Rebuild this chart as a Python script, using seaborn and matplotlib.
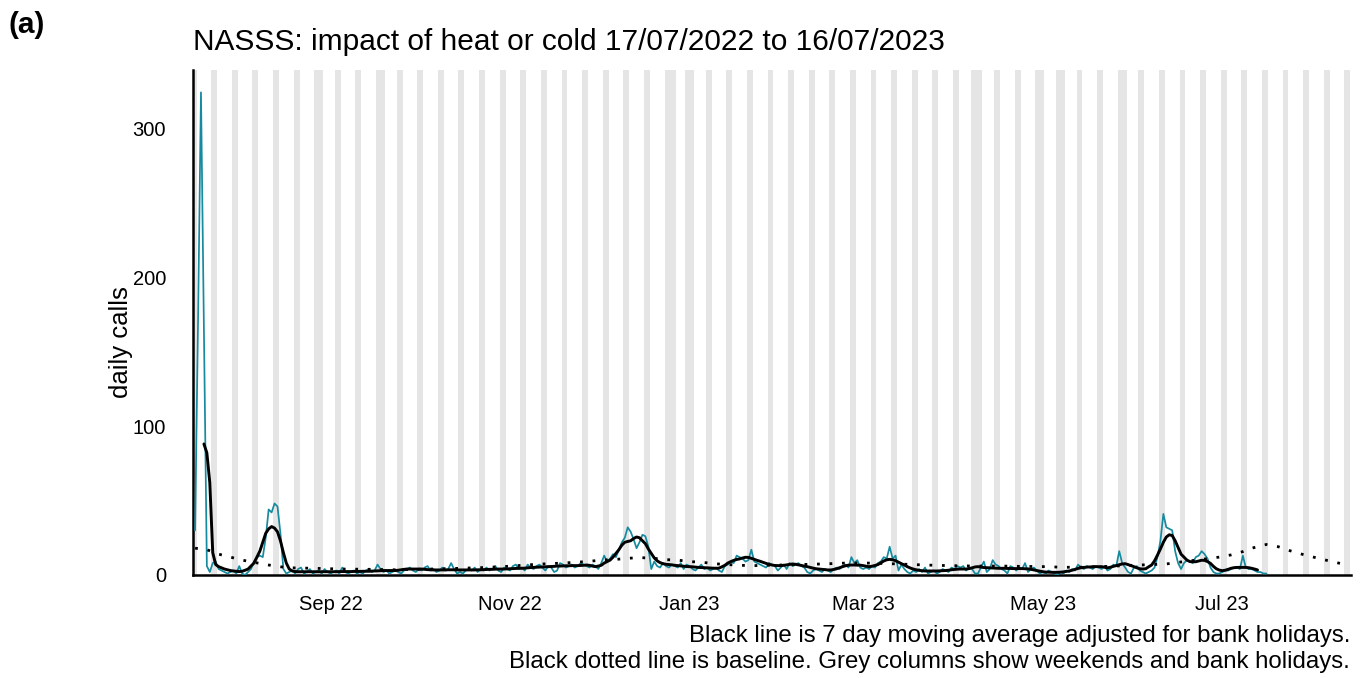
import numpy as np
import pandas as pd
import matplotlib
matplotlib.use("Agg")
import matplotlib.pyplot as plt
import matplotlib.dates as mdates
import seaborn as sns

# ---------------- data ----------------
start_date = "2022-07-17"
teal_jul22 = [30, 170, 324, 165, 6, 2, 8, 9, 4, 3, 2, 1, 2, 3, 1]
teal_aug22 = [6, 1, 0, 2, 4, 9, 12, 13, 12, 25, 44, 42, 48, 46, 28, 4, 1, 2, 3, 1,
              4, 5, 1, 2, 4, 1, 2, 3, 1, 4, 2]
teal_sep22 = [1, 2, 3, 1, 5, 2, 1, 2, 3, 1, 2, 1, 3, 4, 2, 3, 7, 4, 2, 3,
              1, 2, 3, 2, 1, 3, 4, 5, 3, 2]
teal_oct22 = [4, 3, 5, 6, 3, 4, 2, 3, 5, 3, 4, 8, 4, 1, 2, 1, 3, 4, 3, 5,
              2, 4, 3, 5, 3, 4, 6, 3, 2, 5, 4]
teal_nov22 = [3, 6, 7, 4, 5, 3, 7, 5, 4, 6, 7, 5, 3, 6, 5, 2, 3, 8, 7, 5,
              6, 7, 5, 6, 8, 7, 6, 5, 7, 6]
teal_dec22 = [4, 8, 13, 9, 11, 14, 12, 17, 22, 25, 32, 29, 24, 18, 22, 27, 26, 19, 4, 9,
              6, 5, 8, 6, 5, 7, 6, 5, 8, 4, 7]
teal_jan23 = [6, 4, 3, 5, 7, 4, 5, 3, 4, 5, 3, 2, 6, 7, 9, 8, 13, 12, 11, 9,
              10, 17, 9, 8, 7, 6, 5, 8, 7, 6, 3]
teal_feb23 = [5, 7, 4, 8, 6, 7, 8, 6, 5, 2, 1, 3, 4, 3, 2, 4, 3, 2, 4, 5,
              4, 6, 7, 5, 12, 8, 10, 5]
teal_mar23 = [4, 5, 4, 6, 5, 8, 9, 12, 11, 19, 11, 13, 3, 7, 4, 2, 1, 3, 2, 4,
              2, 5, 1, 2, 3, 1, 2, 4, 3, 2, 5]
teal_apr23 = [4, 6, 5, 6, 3, 5, 4, 1, 1, 5, 9, 2, 4, 10, 7, 6, 4, 3, 1, 6,
              5, 3, 5, 4, 8, 2, 4, 5, 3, 1]
teal_may23 = [2, 1, 3, 2, 1, 0, 2, 1, 3, 2, 4, 3, 7, 5, 4, 6, 5, 4, 6, 5,
              4, 6, 3, 4, 7, 6, 16, 8, 5, 2, 1]
teal_jun23 = [5, 6, 3, 2, 1, 2, 3, 5, 12, 23, 41, 32, 31, 30, 16, 8, 4, 8, 10, 9,
              8, 12, 13, 16, 14, 11, 5, 2, 1, 1]
teal_jul23 = [2, 3, 3, 4, 5, 5, 4, 13, 5, 4, 4, 3, 2, 2, 1, 1]

ma_start_date = "2022-07-20"
ma_jul22 = [88, 82, 62, 15, 7, 5.6, 4.8, 4, 3.5, 3, 2.7, 2.5]
ma_aug22 = [2.3, 2.5, 3.2, 4, 6, 8, 12, 16, 22, 28, 31, 32.5, 31.5, 29, 23, 15, 8, 4, 2.7, 2.3,
            2.2, 2.2, 2.2, 2.2, 2.2, 2.2, 2.2, 2.2, 2.2, 2.2, 2.2]
ma_sep22 = [2.2, 2.2, 2.2, 2.3, 2.3, 2.3, 2.3, 2.3, 2.4, 2.4, 2.4, 2.5, 2.5, 2.5, 2.6,
            2.7, 2.8, 2.9, 3, 3, 3, 3, 3, 3.2, 3.5, 3.8, 4, 4, 4, 4]
ma_oct22 = [4, 4, 3.8, 3.6, 3.5, 3.4, 3.4, 3.4, 3.4, 3.4, 3.5, 3.5, 3.5, 3.4, 3.4,
            3.4, 3.4, 3.4, 3.4, 3.4, 3.5, 3.5, 3.6, 3.7, 3.8, 3.8, 3.9, 4, 4, 4, 4.1]
ma_nov22 = [4.2, 4.3, 4.4, 4.5, 4.5, 4.6, 4.8, 5, 5.1, 5.2, 5.3, 5.4, 5.5, 5.6, 5.7,
            5.8, 6, 6, 6.1, 6.2, 6.2, 6.3, 6.3, 6.3, 6.4, 6.5, 6.7, 6.5, 6, 5.6]
ma_dec22 = [6, 6.5, 8, 9, 10, 12, 14.5, 17, 20, 22, 22.5, 23, 24.5, 25.5, 25,
            23, 21, 17.5, 14.5, 11.5, 9.5, 8.3, 7.6, 7.2, 7, 6.8, 6.5, 6.3, 6.1, 5.9, 5.7]
ma_jan23 = [5.6, 5.5, 5.3, 5.1, 5, 4.9, 4.8, 4.7, 4.6, 4.5, 4.6, 5.5, 6.5, 8, 9,
            9.8, 10.4, 10.8, 11.4, 11.9, 11.8, 11.2, 10.5, 9.8, 9.2, 8.5, 7.8, 7.2, 6.7, 6.4, 6.3]
ma_feb23 = [6.3, 6.5, 6.8, 7.1, 7.4, 7.2, 6.8, 6.4, 6, 5.6, 5.1, 4.6, 4.2, 4, 3.8,
            3.6, 3.4, 3.4, 3.7, 4.2, 4.9, 5.6, 6.2, 6.6, 6.7, 6.7, 6.6, 6.6]
ma_mar23 = [6.3, 5.9, 5.6, 5.9, 6.4, 7, 8.2, 9.4, 10.2, 10.5, 10.2, 9.6, 8.6, 7.6, 6.7,
            5.6, 4.7, 4, 3.5, 3.1, 2.9, 2.7, 2.7, 2.7, 2.7, 2.7, 2.8, 2.9, 3, 3.2, 3.5]
ma_apr23 = [3.7, 3.9, 4, 4, 4, 4.3, 4.8, 5.4, 5.6, 5.3, 5, 4.9, 4.8, 4.7, 4.6,
            4.5, 4.5, 4.5, 4.4, 4.4, 4.3, 4.3, 4.3, 4.3, 4.2, 4.1, 3.8, 3.4, 3, 2.6]
ma_may23 = [2.2, 2, 1.9, 1.8, 1.8, 1.8, 1.9, 2.1, 2.4, 2.7, 3.2, 3.8, 4.4, 4.9, 5.1,
            5.3, 5.4, 5.5, 5.6, 5.6, 5.6, 5.2, 4.8, 5.2, 5.8, 6.3, 6.9, 7.4, 7.6, 7, 6.3]
ma_jun23 = [5.6, 4.8, 4.2, 4, 4.2, 5.5, 6.7, 9.5, 13.4, 17.5, 22, 25.5, 27, 26.5, 23,
            18.5, 14, 12, 10, 9, 8.9, 8.9, 9.4, 9.9, 9.8, 9, 7.8, 5.8, 4.2, 3.3]
ma_jul23 = [2.9, 3.2, 3.8, 4.5, 4.9, 5.1, 5.1, 5.1, 5.1, 4.9, 4.5, 4, 3.4]

baseline_dates = ["2022-07-17", "2022-07-21", "2022-07-25", "2022-07-29", "2022-08-02",
                  "2022-08-06", "2022-08-11", "2022-08-15", "2022-08-19", "2022-08-26",
                  "2022-09-05", "2022-09-15", "2022-09-23", "2022-10-05", "2022-10-15",
                  "2022-10-23", "2022-10-28", "2022-11-02", "2022-11-06", "2022-11-14",
                  "2022-11-19", "2022-11-23", "2022-11-27", "2022-12-02", "2022-12-06",
                  "2022-12-11", "2022-12-15", "2022-12-20", "2022-12-24", "2022-12-28",
                  "2023-01-01", "2023-01-05", "2023-01-10", "2023-01-18", "2023-01-23",
                  "2023-02-01", "2023-02-07", "2023-02-15", "2023-02-23", "2023-03-04",
                  "2023-03-13", "2023-03-22", "2023-03-30", "2023-04-08", "2023-04-17",
                  "2023-04-23", "2023-05-03", "2023-05-07", "2023-05-13", "2023-05-23",
                  "2023-06-03", "2023-06-12", "2023-06-16", "2023-06-22", "2023-06-30",
                  "2023-07-04", "2023-07-08", "2023-07-11", "2023-07-16", "2023-07-20",
                  "2023-07-24", "2023-07-28", "2023-08-01", "2023-08-06", "2023-08-10"]
baseline_values = [18, 17, 14, 12, 10, 8.5, 6.7, 5.5, 4.8, 4.5,
                   4, 3.8, 3.5, 4, 4.5, 5, 5.5, 6, 6.7, 7.6,
                   8, 8.5, 9, 10, 10.3, 11.2, 11.7, 11.2, 10.3, 10,
                   9, 8.6, 7.5, 6.5, 6.3, 6.7, 7, 7.4, 8, 8,
                   7.4, 6.7, 6.3, 6, 6, 5.8, 5.6, 5.2, 5.2, 5.8,
                   6.7, 7.4, 8.5, 10, 12, 13.5, 15.7, 18, 20.5, 19,
                   16.3, 14, 12, 9.6, 7.8]

bank_holidays = ["2022-08-29", "2022-09-19", "2022-12-26", "2022-12-27", "2023-01-02",
                 "2023-04-07", "2023-04-10", "2023-05-01", "2023-05-08", "2023-05-29"]

x_ticks = ["2022-09-01", "2022-11-01", "2023-01-01", "2023-03-01", "2023-05-01", "2023-07-01"]
x_tick_labels = ["Sep 22", "Nov 22", "Jan 23", "Mar 23", "May 23", "Jul 23"]
y_ticks = [0, 100, 200, 300]

title = "NASSS: impact of heat or cold 17/07/2022 to 16/07/2023"
y_label = "daily calls"
caption = ["Black line is 7 day moving average adjusted for bank holidays.",
           "Black dotted line is baseline. Grey columns show weekends and bank holidays."]
panel_label = "(a)"

# ---------------- build tables ----------------
daily_calls = (teal_jul22 + teal_aug22 + teal_sep22 + teal_oct22 + teal_nov22 + teal_dec22 +
               teal_jan23 + teal_feb23 + teal_mar23 + teal_apr23 + teal_may23 + teal_jun23 + teal_jul23)
moving_avg = (ma_jul22 + ma_aug22 + ma_sep22 + ma_oct22 + ma_nov22 + ma_dec22 +
              ma_jan23 + ma_feb23 + ma_mar23 + ma_apr23 + ma_may23 + ma_jun23 + ma_jul23)

df_daily = pd.DataFrame({"date": pd.date_range(start_date, periods=len(daily_calls), freq="D"),
                         "calls": daily_calls})
df_ma = pd.DataFrame({"date": pd.date_range(ma_start_date, periods=len(moving_avg), freq="D"),
                      "calls": moving_avg})
df_base = pd.DataFrame({"date": pd.to_datetime(baseline_dates), "calls": baseline_values})

# ---------------- style ----------------
sns.set_style("white")
plt.rcParams["font.family"] = ["Liberation Sans", "DejaVu Sans"]
plt.rcParams["text.color"] = "black"
plt.rcParams["axes.labelcolor"] = "black"
plt.rcParams["xtick.color"] = "black"
plt.rcParams["ytick.color"] = "black"

W, H = 1362, 678
fig = plt.figure(figsize=(W / 100, H / 100), dpi=100)
ax_left, ax_right, ax_top, ax_bottom = 193, 1351, 70, 575
ax = fig.add_axes([ax_left / W, 1 - ax_bottom / H, (ax_right - ax_left) / W, (ax_bottom - ax_top) / H])

x_min = pd.Timestamp("2022-07-16 07:00")
x_max = pd.Timestamp("2023-08-13 18:00")

# grey columns: weekends and bank holidays, merged into contiguous runs
hol = set(pd.to_datetime(bank_holidays))
days = pd.date_range("2022-07-15", "2023-08-15", freq="D")
grey_days = [d for d in days if d.weekday() >= 5 or d in hol]
runs = []
for d in grey_days:
    if runs and (d - runs[-1][1]).days == 1:
        runs[-1][1] = d
    else:
        runs.append([d, d])
half = pd.Timedelta(hours=12)
for a, b in runs:
    ax.axvspan(a - half, b + half, color="#E5E5E5", lw=0, zorder=0)

sns.lineplot(data=df_daily, x="date", y="calls", ax=ax, color="#168A9E", lw=1.25, zorder=3)
sns.lineplot(data=df_base, x="date", y="calls", ax=ax, color="black", lw=2.0, zorder=4,
             linestyle=(0, (1, 3.5)))
sns.lineplot(data=df_ma, x="date", y="calls", ax=ax, color="black", lw=2.1, zorder=5)

ax.set_xlim(x_min, x_max)
ax.set_ylim(0, 339)
ax.set_xticks(pd.to_datetime(x_ticks))
ax.set_xticklabels(x_tick_labels)
ax.set_yticks(y_ticks)
ax.set_yticklabels([str(v) for v in y_ticks])
ax.set_xlabel("")
ax.set_ylabel(y_label, fontsize=18.5, color="black")
ax.yaxis.set_label_coords((133 - ax_left) / (ax_right - ax_left), (ax_bottom - 342) / (ax_bottom - ax_top))

for side in ["top", "right"]:
    ax.spines[side].set_visible(False)
for side in ["left", "bottom"]:
    ax.spines[side].set_color("black")
    ax.spines[side].set_linewidth(1.8)
ax.tick_params(axis="both", which="both", direction="out", length=4.5, width=1.3,
               color="#333333", labelsize=14.5, labelcolor="black")
ax.tick_params(axis="x", pad=10)
ax.tick_params(axis="y", pad=15)
ax.grid(False)
ax.set_facecolor("white")

fig.text(ax_left / W, 1 - 50 / H, title, ha="left", va="baseline", fontsize=21.5, color="black")
fig.text(8 / W, 1 - 33 / H, panel_label, ha="left", va="baseline", fontsize=21.5,
         fontweight="bold", color="black")
fig.text(1350 / W, 1 - 642 / H, caption[0], ha="right", va="baseline", fontsize=17.3, color="black")
fig.text(1350 / W, 1 - 668 / H, caption[1], ha="right", va="baseline", fontsize=17.3, color="black")

fig.savefig("out.png", dpi=100, facecolor="white")
